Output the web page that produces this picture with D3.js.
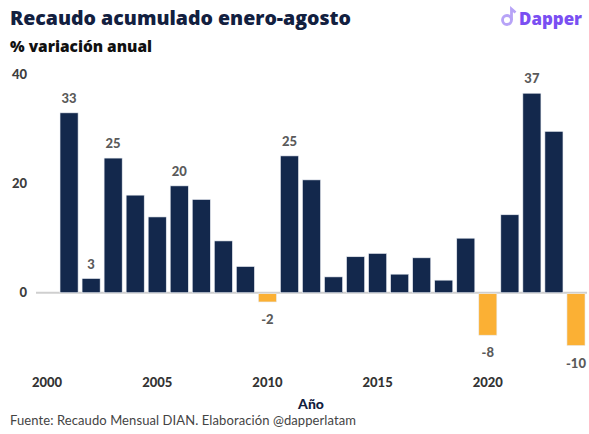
<!DOCTYPE html>
<html lang="es">
<head>
<meta charset="UTF-8">
<title>Recaudo acumulado enero-agosto</title>
<script src="https://d3js.org/d3.v7.min.js"></script>
<style>
  body { margin: 0; background: #fff; }
  svg { display: block; font-family: Lato, "Open Sans", sans-serif; }
</style>
</head>
<body>
<svg width="589" height="434"></svg>
<script>
// datos
var years = d3.range(2001, 2025)
var values = [33, 2.6, 24.7, 17.9, 13.9, 19.6, 17.1, 9.5, 4.8, -1.7, 25.1, 20.7,
              2.9, 6.6, 7.2, 3.4, 6.4, 2.3, 10.0, -7.8, 14.3, 36.6, 29.6, -9.7]
var labelYears = [2001, 2002, 2003, 2006, 2010, 2011, 2020, 2022, 2024]
var tickYears = [2000, 2005, 2010, 2015, 2020]
var yTicks = [0, 20, 40]

var navy = '#13284c', orange = '#fbb034'

var svg = d3.select('svg')

var x = d3.scaleBand()
    .domain(d3.range(2000, 2025))
    .range([36, 587])
    .paddingInner(0.18)
    .paddingOuter(0.09)

var y = d3.scaleLinear()
    .domain([0, 40])
    .range([292.7, 74.7])

// titulos
svg.append('text')
    .attr('x', 10).attr('y', 25)
    .attr('font-family', '"Open Sans", sans-serif')
    .attr('font-size', 19).attr('font-weight', 800)
    .attr('fill', '#12203f')
    .attr('textLength', 341)
    .attr('lengthAdjust', 'spacingAndGlyphs')
    .text('Recaudo acumulado enero-agosto')

svg.append('text')
    .attr('x', 10).attr('y', 52)
    .attr('font-family', '"Open Sans", sans-serif')
    .attr('font-size', 15).attr('font-weight', 800)
    .attr('fill', '#111')
    .attr('textLength', 142)
    .attr('lengthAdjust', 'spacingAndGlyphs')
    .text('% variación anual')

// logo
var logo = svg.append('g').attr('transform', 'translate(502,8)')
logo.append('circle').attr('cx', 5).attr('cy', 12).attr('r', 4.5)
    .attr('fill', 'none').attr('stroke', '#b7a3f7').attr('stroke-width', 2.8)
logo.append('path').attr('d', 'M9.5,12 V1 L13.5,4.5')
    .attr('fill', 'none').attr('stroke', '#b7a3f7').attr('stroke-width', 2.8)
logo.append('text')
    .attr('x', 17).attr('y', 17)
    .attr('font-family', '"Open Sans", sans-serif')
    .attr('font-size', 17).attr('font-weight', 800)
    .attr('fill', '#7a4ff2')
    .attr('textLength', 63)
    .attr('lengthAdjust', 'spacingAndGlyphs')
    .text('Dapper')

// eje y
svg.append('g')
    .selectAll('text')
    .data(yTicks)
    .join('text')
    .attr('x', 27)
    .attr('y', d => y(d))
    .attr('dy', '0.35em')
    .attr('text-anchor', 'end')
    .attr('font-size', 13).attr('font-weight', 900)
    .attr('fill', '#3d3d3d')
    .text(d => d)

// linea cero
svg.append('line')
    .attr('x1', 36).attr('x2', 587)
    .attr('y1', y(0)).attr('y2', y(0))
    .attr('stroke', '#cfcfcf').attr('stroke-width', 2)

// barras
var data = years.map((d, i) => ({ year: d, value: values[i] }))

svg.append('g')
    .selectAll('rect')
    .data(data)
    .join('rect')
    .attr('x', d => x(d.year))
    .attr('width', x.bandwidth())
    .attr('y', d => d.value >= 0 ? y(d.value) : y(0) + 1)
    .attr('height', d => Math.abs(y(d.value) - y(0)) - (d.value >= 0 ? 0 : 1))
    .attr('fill', d => d.value >= 0 ? navy : orange)
    .attr('stroke', '#e8ecf2').attr('stroke-width', 0.6)

// etiquetas de valores
svg.append('g')
    .selectAll('text')
    .data(data.filter(d => labelYears.includes(d.year)))
    .join('text')
    .attr('x', d => x(d.year) + x.bandwidth() / 2)
    .attr('y', d => d.value >= 0 ? y(d.value) - 10 : y(d.value) + 22)
    .attr('text-anchor', 'middle')
    .attr('font-size', 13).attr('font-weight', 900)
    .attr('fill', '#5a5a5a')
    .text(d => Math.round(d.value))

// eje x
var xAxis = svg.append('g')
    .attr('transform', 'translate(0,382)')
    .call(d3.axisBottom(x).tickValues(tickYears).tickSize(0).tickPadding(0))
xAxis.select('.domain').remove()
xAxis.selectAll('text')
    .attr('font-size', 13).attr('font-weight', 900)
    .attr('fill', '#333')
    .attr('font-family', 'Lato, sans-serif')
    .attr('dy', '0.35em')

svg.append('text')
    .attr('x', 311).attr('y', 409)
    .attr('text-anchor', 'middle')
    .attr('font-size', 14).attr('font-weight', 900)
    .attr('fill', '#12203f')
    .text('Año')

svg.append('text')
    .attr('x', 10).attr('y', 425)
    .attr('font-size', 13)
    .attr('fill', '#444')
    .attr('textLength', 346)
    .text('Fuente: Recaudo Mensual DIAN. Elaboración @dapperlatam')
</script>
</body>
</html>
